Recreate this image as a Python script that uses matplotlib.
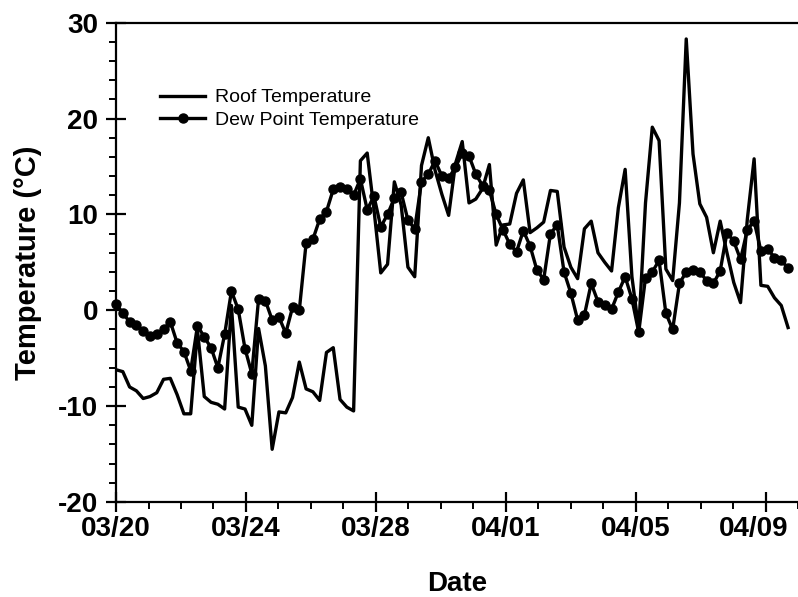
import numpy as np
import pandas as pd
import matplotlib
matplotlib.use("Agg")
import matplotlib.pyplot as plt
import matplotlib.transforms as mtransforms

# lecturas cada ~5 horas desde el 20 de marzo
fechas = pd.date_range("2003-03-20 00:00", periods=100, freq="301min")

techo = [
    -6.2, -6.4, -8.0, -8.4, -9.2, -9.0, -8.6, -7.2, -7.1, -8.8,
    -10.8, -10.8, -2.1, -9.0, -9.6, -9.8, -10.3, 0.5, -10.1, -10.3,
    -12.0, -1.9, -5.8, -14.5, -10.6, -10.7, -9.1, -5.4, -8.2, -8.5,
    -9.4, -4.4, -3.9, -9.3, -10.1, -10.5, 15.6, 16.4, 10.5, 3.9,
    4.8, 13.4, 11.0, 4.5, 3.5, 15.1, 18.0, 14.6, 12.1, 9.9,
    15.3, 17.6, 11.2, 11.6, 12.7, 15.2, 6.8, 8.9, 9.0, 12.2,
    13.6, 8.1, 8.6, 9.2, 12.5, 12.4, 6.6, 4.5, 3.3, 8.5,
    9.3, 6.0, 5.0, 4.1, 10.7, 14.7, 3.5, -2.0, 11.2, 19.1,
    17.7, 4.3, 3.1, 11.2, 28.3, 16.3, 11.1, 9.7, 6.0, 9.3,
    6.0, 2.9, 0.8, 9.5, 15.8, 2.6, 2.5, 1.3, 0.5, -1.8,
]

rocio = [
    0.7, -0.3, -1.2, -1.5, -2.2, -2.7, -2.5, -2.0, -1.2, -3.4,
    -4.3, -6.3, -1.6, -2.8, -3.9, -6.0, -2.5, 2.0, 0.1, -4.0,
    -6.6, 1.2, 1.0, -1.0, -0.7, -2.4, 0.3, 0.0, 7.0, 7.4,
    9.5, 10.3, 12.6, 12.9, 12.7, 12.0, 13.7, 10.5, 11.9, 8.7,
    10.0, 11.7, 12.3, 9.4, 8.5, 13.4, 14.2, 15.6, 14.0, 13.8,
    14.9, 16.4, 16.1, 14.2, 13.0, 12.5, 10.0, 8.4, 6.9, 6.1,
    8.3, 6.7, 4.2, 3.2, 8.0, 8.9, 4.0, 1.8, -1.0, -0.5,
    2.8, 0.9, 0.5, 0.1, 1.9, 3.5, 1.2, -2.3, 3.4, 4.0,
    5.2, -0.3, -2.0, 2.8, 4.0, 4.2, 4.0, 3.1, 2.8, 4.1,
    8.1, 7.2, 5.3, 8.4, 9.3, 6.2, 6.4, 5.5, 5.2, 4.4,
]

etiquetas_x = ["03/20", "03/24", "03/28", "04/01", "04/05", "04/09"]
ticks_x = pd.date_range("2003-03-20", periods=6, freq="4D")
ticks_menores = pd.date_range("2003-03-20", periods=22, freq="1D")

plt.rcParams["font.family"] = ["Liberation Sans", "DejaVu Sans"]
plt.rcParams["axes.unicode_minus"] = False

fig = plt.figure(figsize=(7.98, 5.97), dpi=100)
ax = fig.add_axes([0.1454, 0.1591, 0.8546, 0.8029])

ax.plot(fechas, techo, color="black", linewidth=2.4, label="Roof Temperature")
ax.plot(fechas, rocio, color="black", linewidth=2.4, marker="o", markersize=6.5,
        label="Dew Point Temperature", clip_on=False)

inicio = pd.Timestamp("2003-03-20")
ax.set_xlim(inicio, inicio + pd.Timedelta(days=20.73))
ax.set_ylim(-20, 30)

ax.set_xticks(ticks_x)
ax.set_xticklabels(etiquetas_x)
ax.set_xticks(ticks_menores, minor=True)
ax.set_yticks(np.arange(-20, 31, 10))
ax.set_yticks(np.arange(-20, 31, 2), minor=True)

for s in ["left", "bottom", "top"]:
    ax.spines[s].set_linewidth(1.6)
ax.spines["right"].set_visible(False)

ax.tick_params(which="major", direction="inout", length=14, width=1.6,
               labelsize=20, pad=6)
ax.tick_params(axis="x", which="major", pad=3)
ax.tick_params(which="minor", direction="out", length=5, width=1.4)
ax.tick_params(top=False, right=False, which="both")
for lbl in ax.get_xticklabels() + ax.get_yticklabels():
    lbl.set_fontweight("bold")

# la última etiqueta queda pegada al borde: se corre un poco a la izquierda
ultima = ax.get_xticklabels()[-1]
ultima.set_transform(ultima.get_transform() +
                     mtransforms.ScaledTranslation(-12 / 100, 0, fig.dpi_scale_trans))

ax.set_xlabel("Date", fontsize=20, fontweight="bold", labelpad=21)
ax.set_ylabel("Temperature (°C)", fontsize=21, fontweight="bold", labelpad=11)

ax.legend(loc="upper left", bbox_to_anchor=(0.065, 0.862), frameon=False,
          fontsize=14, handlelength=2.3, handletextpad=0.5, labelspacing=0.25,
          borderpad=0, borderaxespad=0)

fig.savefig("out.png", dpi=100)
